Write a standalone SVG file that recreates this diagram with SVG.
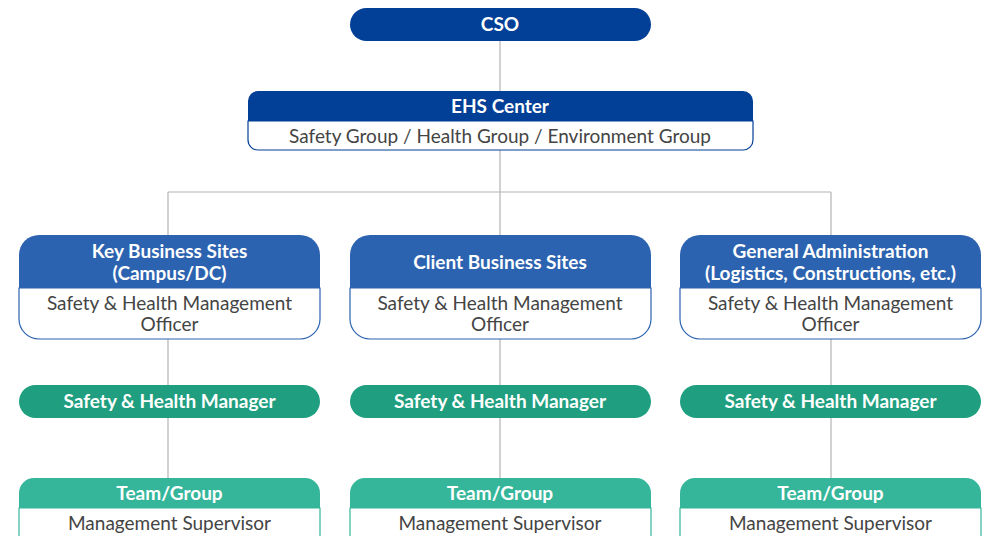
<svg xmlns="http://www.w3.org/2000/svg" width="985" height="536" viewBox="0 0 985 536">
<style>
.ln{stroke:#b4b4b4;stroke-width:1.2;fill:none}
.t{font-family:Lato,"Noto Sans",sans-serif;font-size:19px;text-anchor:middle}
.w{fill:#ffffff;font-weight:bold}
.d{fill:#444444}
.box{fill:#ffffff;stroke-width:1.2}
</style>
<rect width="985" height="536" fill="#ffffff"/>
<g id="connectors">
<path class="ln" d="M500 41V91M500 150V192M168 192H831M168 192V235M500 192V235M831 192V235"/>
<path class="ln" d="M168 339V385M500 339V385M831 339V385M168 418V478M500 418V478M831 418V478"/>
</g>
<g id="cso">
<rect x="350" y="8" width="301" height="33" rx="16.5" fill="#023f96"/>
<text class="t w" x="500" y="31">CSO</text>
</g>
<g id="ehs">
<path d="M248 121V101a10 10 0 0 1 10-10H743a10 10 0 0 1 10 10V121Z" fill="#023f96"/>
<path class="box" d="M248 121V140a10 10 0 0 0 10 10H743a10 10 0 0 0 10-10V121Z" stroke="#023f96"/>
<text class="t w" x="500" y="113">EHS Center</text>
<text class="t d" x="500" y="143">Safety Group / Health Group / Environment Group</text>
</g>
<g id="key-sites">
<path d="M19 288V255a20 20 0 0 1 20-20H300a20 20 0 0 1 20 20V288Z" fill="#2c63b0"/>
<path class="box" d="M19 288V319a20 20 0 0 0 20 20H300a20 20 0 0 0 20-20V288Z" stroke="#2c63b0"/>
<text class="t w" x="169.5" y="258">Key Business Sites</text>
<text class="t w" x="169.5" y="280">(Campus/DC)</text>
<text class="t d" x="169.5" y="310">Safety &amp; Health Management</text>
<text class="t d" x="169.5" y="331">Officer</text>
</g>
<g id="client-sites">
<path d="M350 288V255a20 20 0 0 1 20-20H631a20 20 0 0 1 20 20V288Z" fill="#2c63b0"/>
<path class="box" d="M350 288V319a20 20 0 0 0 20 20H631a20 20 0 0 0 20-20V288Z" stroke="#2c63b0"/>
<text class="t w" x="500" y="269">Client Business Sites</text>
<text class="t d" x="500" y="310">Safety &amp; Health Management</text>
<text class="t d" x="500" y="331">Officer</text>
</g>
<g id="general-admin">
<path d="M680 288V255a20 20 0 0 1 20-20H961a20 20 0 0 1 20 20V288Z" fill="#2c63b0"/>
<path class="box" d="M680 288V319a20 20 0 0 0 20 20H961a20 20 0 0 0 20-20V288Z" stroke="#2c63b0"/>
<text class="t w" x="830.5" y="258">General Administration</text>
<text class="t w" x="830.5" y="280">(Logistics, Constructions, etc.)</text>
<text class="t d" x="830.5" y="310">Safety &amp; Health Management</text>
<text class="t d" x="830.5" y="331">Officer</text>
</g>
<g id="manager-1">
<rect x="19" y="385" width="301" height="33" rx="16.5" fill="#1f9f80"/>
<text class="t w" x="169.5" y="408">Safety &amp; Health Manager</text>
</g>
<g id="manager-2">
<rect x="350" y="385" width="301" height="33" rx="16.5" fill="#1f9f80"/>
<text class="t w" x="500" y="408">Safety &amp; Health Manager</text>
</g>
<g id="manager-3">
<rect x="680" y="385" width="301" height="33" rx="16.5" fill="#1f9f80"/>
<text class="t w" x="830.5" y="408">Safety &amp; Health Manager</text>
</g>
<g id="team-1">
<path d="M19 508V493a15 15 0 0 1 15-15H305a15 15 0 0 1 15 15V508Z" fill="#35b69b"/>
<path class="box" d="M19 508V540H320V508Z" stroke="#35b69b"/>
<text class="t w" x="169.5" y="500">Team/Group</text>
<text class="t d" x="169.5" y="530">Management Supervisor</text>
</g>
<g id="team-2">
<path d="M350 508V493a15 15 0 0 1 15-15H636a15 15 0 0 1 15 15V508Z" fill="#35b69b"/>
<path class="box" d="M350 508V540H651V508Z" stroke="#35b69b"/>
<text class="t w" x="500" y="500">Team/Group</text>
<text class="t d" x="500" y="530">Management Supervisor</text>
</g>
<g id="team-3">
<path d="M680 508V493a15 15 0 0 1 15-15H966a15 15 0 0 1 15 15V508Z" fill="#35b69b"/>
<path class="box" d="M680 508V540H981V508Z" stroke="#35b69b"/>
<text class="t w" x="830.5" y="500">Team/Group</text>
<text class="t d" x="830.5" y="530">Management Supervisor</text>
</g>
</svg>
